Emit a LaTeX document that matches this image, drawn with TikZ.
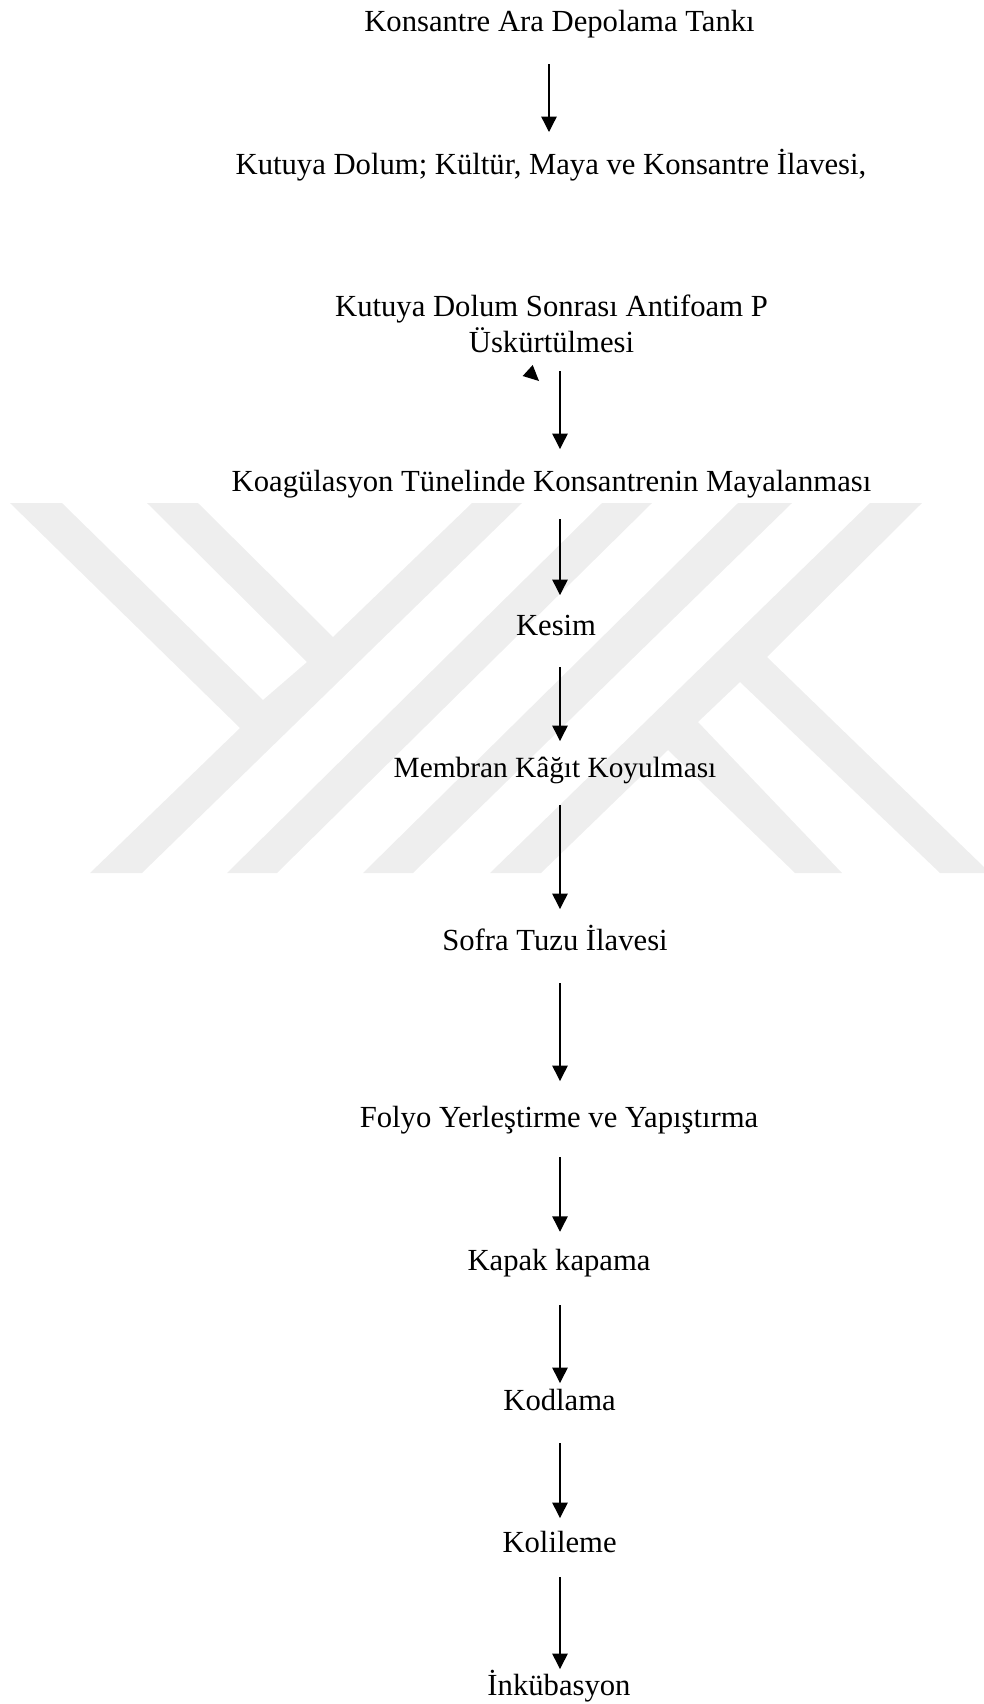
\documentclass[tikz,border=0pt]{standalone}
\usepackage{fontspec}
\setmainfont{Liberation Serif}
\usetikzlibrary{arrows.meta}
\definecolor{wmgray}{HTML}{EEEEEE}
\tikzset{%
  >={Triangle[width=11.5pt,length=11.5pt]},
  % Styles of the steps and of the lines between them
  stepnode/.style = {inner sep=0pt, outer sep=0pt, text height=15pt, text depth=5pt,
                     align=center, font=\fontsize{23}{27}\selectfont},
  flow/.style 2 args = {->, line width=1pt, shorten <=#1, shorten >=#2},
  wmshape/.style = {fill=wmgray, draw=none},
}

\begin{document}
\begin{tikzpicture}[x=0.75pt, y=0.75pt]
  \useasboundingbox (0,0) rectangle (984,-1704);
  % Watermark behind the flow
  \fill[wmshape] (10,-503) -- (62,-503) -- (263,-700) -- (307,-662) -- (147,-503) -- (198,-503)
     -- (333,-637) -- (472,-503) -- (522,-503) -- (142,-873) -- (90,-873) -- (240,-728) -- cycle;
  \fill[wmshape] (602,-503) -- (652,-503) -- (277,-873) -- (227,-873) -- cycle;
  \fill[wmshape] (738,-503) -- (792,-503) -- (413,-873) -- (363,-873) -- cycle;
  \fill[wmshape] (870,-503) -- (922,-503) -- (767,-657) -- (984,-867) -- (984,-873) -- (940,-873)
     -- (740,-682) -- (698,-722) -- (842,-873) -- (795,-873) -- (668,-750) -- (541,-873) -- (490,-873) -- cycle;
  % Specification of the steps
  \node (tank) [stepnode] at (559.5,-24.33) {Konsantre Ara Depolama Tankı};
  \node (dolum) [stepnode, node distance=107.25pt, below of=tank, xshift=-6.4pt]
        {Kutuya Dolum; Kültür, Maya ve Konsantre İlavesi,};
  \node (antifoam) [stepnode, text height=32pt, node distance=125pt, below of=dolum, xshift=0.4pt]
        {Kutuya Dolum Sonrası Antifoam P\\Üskürtülmesi};
  \node (koagulasyon) [stepnode, node distance=113.27pt, below of=antifoam]
        {Koagülasyon Tünelinde Konsantrenin Mayalanması};
  \node (kesim) [stepnode, node distance=107.5pt, below of=koagulasyon, xshift=3.4pt] {Kesim};
  \node (membran) [stepnode, node distance=106.5pt, below of=kesim, xshift=-0.75pt,
        font=\fontsize{22}{27}\selectfont] {Membran Kâğıt Koyulması};
  \node (tuz) [stepnode, node distance=130.3pt, below of=membran] {Sofra Tuzu İlavesi};
  \node (folyo) [stepnode, node distance=132.2pt, below of=tuz, xshift=3pt] {Folyo Yerleştirme ve Yapıştırma};
  \node (kapak) [stepnode, node distance=107.25pt, below of=folyo] {Kapak kapama};
  \node (kodlama) [stepnode, node distance=105pt, below of=kapak, xshift=0.4pt] {Kodlama};
  \node (koli) [stepnode, node distance=106.5pt, below of=kodlama] {Kolileme};
  \node (inkubasyon) [stepnode, node distance=107.25pt, below of=koli, xshift=-0.4pt] {İnkübasyon};
  % The axes of the arrows
  \coordinate (topaxis) at (549,0);
  \coordinate (axis) at (560,0);
  % Specification of lines between the steps
  \draw[flow={19.75pt}{16.5pt}] (tank.south -| topaxis) -- (dolum.north -| topaxis);
  \draw[flow={9.25pt}{17pt}] (antifoam.south -| axis) -- (koagulasyon.north -| axis);
  \draw[flow={15.5pt}{15pt}] (koagulasyon.south -| axis) -- (kesim.north -| axis);
  \draw[flow={19pt}{12pt}] (kesim.south -| axis) -- (membran.north -| axis);
  \draw[flow={16pt}{16.3pt}] (membran.south -| axis) -- (tuz.north -| axis);
  \draw[flow={19.2pt}{19.5pt}] (tuz.south -| axis) -- (folyo.north -| axis);
  \draw[flow={17.5pt}{13.7pt}] (folyo.south -| axis) -- (kapak.north -| axis);
  \draw[flow={21.25pt}{5.25pt}] (kapak.south -| axis) -- (kodlama.north -| axis);
  \draw[flow={19.75pt}{10.5pt}] (kodlama.south -| axis) -- (koli.north -| axis);
  \draw[flow={13.75pt}{4.5pt}] (koli.south -| axis) -- (inkubasyon.north -| axis);
  % Loose arrow tip under the second line of text
  \fill (532.7,-365) -- (522.7,-376) -- (539,-381) -- cycle;
\end{tikzpicture}
\end{document}
